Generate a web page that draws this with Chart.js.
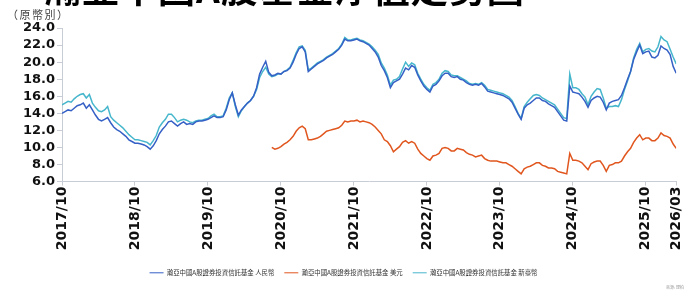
<!DOCTYPE html>
<html><head><meta charset="utf-8">
<script src="https://cdn.jsdelivr.net/npm/chart.js@4/dist/chart.umd.min.js"></script>
<style>
html,body{margin:0;padding:0;background:#fff;}
#wrap{position:relative;width:694px;height:294px;overflow:hidden;}
#c{position:absolute;left:0;top:0;}
#title{position:absolute;left:44px;top:-31px;font:bold 37px "Noto Sans CJK TC";line-height:37px;white-space:nowrap;color:#000;letter-spacing:1px;}
#unit{position:absolute;left:7px;top:6px;font:11px "Noto Sans CJK TC";color:#444;letter-spacing:1.5px;}
#src{position:absolute;left:666px;top:284px;font:4px "Noto Sans CJK TC";color:#999;}
</style></head>
<body>
<div id="wrap">
<canvas id="c" width="694" height="294"></canvas>
<div id="title">瀚亞中國A股基金淨值走勢圖</div>
<div id="unit">（原幣別）</div>
<div id="src">來源: 理柏</div>
</div>
<script>
// Months (each month has two half-month readings)
const months = [
'2017/10','2017/11','2017/12',
'2018/01','2018/02','2018/03','2018/04','2018/05','2018/06','2018/07','2018/08','2018/09','2018/10','2018/11','2018/12',
'2019/01','2019/02','2019/03','2019/04','2019/05','2019/06','2019/07','2019/08','2019/09','2019/10','2019/11','2019/12',
'2020/01','2020/02','2020/03','2020/04','2020/05','2020/06','2020/07','2020/08','2020/09','2020/10','2020/11','2020/12',
'2021/01','2021/02','2021/03','2021/04','2021/05','2021/06','2021/07','2021/08','2021/09','2021/10','2021/11','2021/12',
'2022/01','2022/02','2022/03','2022/04','2022/05','2022/06','2022/07','2022/08','2022/09','2022/10','2022/11','2022/12',
'2023/01','2023/02','2023/03','2023/04','2023/05','2023/06','2023/07','2023/08','2023/09','2023/10','2023/11','2023/12',
'2024/01','2024/02','2024/03','2024/04','2024/05','2024/06','2024/07','2024/08','2024/09','2024/10','2024/11','2024/12',
'2025/01','2025/02','2025/03','2025/04','2025/05','2025/06','2025/07','2025/08','2025/09','2025/10','2025/11','2025/12',
'2026/01','2026/02','2026/03'
];
const tickLabels = ['2017/10','2018/10','2019/10','2020/10','2021/10','2022/10','2023/10','2024/10','2025/10','2026/03'];
const seriesNames = ['瀚亞中國A股證券投資信託基金 人民幣','瀚亞中國A股證券投資信託基金 美元','瀚亞中國A股證券投資信託基金 新臺幣'];

// half-monthly NAV readings
const navRMB = [
14.0,14.2,14.4,14.3,14.6,14.9,15.0,15.2,14.6,15.0,14.4,13.8,13.3,13.1,13.3,13.5,12.9,12.4,12.1,11.9,11.6,11.3,10.9,10.7,
10.5,10.5,10.4,10.3,10.1,9.8,10.2,10.8,11.6,12.1,12.5,13.0,13.1,12.8,12.5,12.8,13.0,12.7,12.8,12.7,13.0,13.1,13.1,13.2,
13.3,13.5,13.7,13.5,13.5,13.6,14.4,15.6,16.4,15.0,13.8,14.4,14.8,15.2,15.5,16.0,17.0,18.6,19.4,20.1,18.8,18.4,18.5,18.7,
18.6,18.9,19.0,19.3,20.0,20.9,21.6,21.8,21.2,18.9,19.2,19.5,19.8,20.0,20.2,20.5,20.7,20.9,21.2,21.5,22.0,22.7,22.5,22.5,
22.6,22.7,22.5,22.4,22.2,22.0,21.6,21.2,20.6,19.6,19.0,18.2,17.0,17.6,17.8,18.0,18.6,19.3,19.1,19.6,19.4,18.5,17.8,17.2,
16.8,16.5,17.2,17.4,17.8,18.4,18.7,18.7,18.3,18.2,18.3,18.0,17.9,17.6,17.4,17.3,17.4,17.3,17.5,17.1,16.6,16.5,16.4,16.3,
16.2,16.1,15.9,15.7,15.3,14.6,13.9,13.3,14.6,15.0,15.2,15.5,15.8,15.8,15.5,15.4,15.1,14.9,14.7,14.2,13.7,13.2,13.1,17.2,
16.5,16.4,16.3,15.9,15.4,14.7,15.5,15.8,16.0,15.9,15.3,14.4,15.2,15.4,15.5,15.6,16.1,17.0,18.0,18.9,20.3,21.2,22.0,21.0,
21.2,21.3,20.6,20.5,20.8,21.9,21.6,21.4,20.9,19.5,18.7
];
const navUSD = [
null,null,null,null,null,null,null,null,null,null,null,null,null,null,null,null,null,null,null,null,null,null,null,null,
null,null,null,null,null,null,null,null,null,null,null,null,null,null,null,null,null,null,null,null,null,null,null,null,
null,null,null,null,null,null,null,null,null,null,null,null,null,null,null,null,null,null,null,null,null,10.0,9.8,9.9,
10.1,10.4,10.6,10.9,11.3,11.9,12.3,12.5,12.2,10.9,10.9,11.0,11.1,11.3,11.6,11.9,12.0,12.1,12.2,12.3,12.6,13.1,13.0,13.1,
13.1,13.2,13.0,13.1,13.0,12.9,12.7,12.4,12.0,11.6,10.9,10.7,10.2,9.5,9.8,10.1,10.6,10.8,10.5,10.7,10.5,9.8,9.3,9.0,
8.7,8.5,9.0,9.1,9.3,9.9,10.0,9.9,9.6,9.6,9.9,9.8,9.7,9.4,9.2,9.1,8.9,9.0,9.1,8.7,8.5,8.4,8.4,8.4,
8.3,8.2,8.2,8.0,7.8,7.5,7.2,6.9,7.5,7.7,7.8,8.0,8.2,8.2,7.9,7.8,7.6,7.6,7.5,7.2,7.1,7.0,6.9,9.3,
8.5,8.5,8.4,8.2,7.8,7.4,8.1,8.3,8.4,8.4,7.9,7.2,7.9,8.0,8.2,8.2,8.4,9.0,9.5,9.9,10.6,11.1,11.5,10.9,
11.1,11.1,10.8,10.8,11.1,11.7,11.4,11.3,11.1,10.4,9.9
];
const navTWD = [
15.0,15.2,15.4,15.3,15.7,16.0,16.2,16.3,15.8,16.2,15.2,14.7,14.3,14.2,14.4,14.8,13.6,13.2,12.9,12.6,12.3,11.9,11.5,11.2,
10.9,10.9,10.8,10.7,10.6,10.3,10.8,11.4,12.4,12.9,13.3,13.9,13.9,13.5,13.0,13.2,13.3,13.2,13.0,12.9,13.1,13.2,13.2,13.3,
13.4,13.7,13.9,13.6,13.6,13.7,14.6,15.8,16.4,14.8,13.6,14.3,14.8,15.2,15.5,16.0,16.8,18.2,18.9,19.4,18.6,18.3,18.4,18.6,
18.6,18.9,19.1,19.4,20.2,21.1,21.8,21.9,21.4,19.1,19.3,19.6,19.9,20.1,20.3,20.6,20.8,21.0,21.3,21.6,22.1,22.9,22.6,22.6,
22.7,22.8,22.6,22.5,22.3,22.1,21.8,21.4,20.9,19.9,19.3,18.5,17.3,17.9,18.0,18.3,19.2,20.0,19.5,19.9,19.7,18.7,18.0,17.4,
17.0,16.7,17.4,17.6,18.0,18.7,19.0,18.9,18.5,18.4,18.4,18.2,18.0,17.8,17.5,17.4,17.5,17.4,17.6,17.3,16.8,16.7,16.6,16.5,
16.4,16.3,16.1,15.9,15.5,14.8,14.0,13.4,14.8,15.3,15.7,16.1,16.2,16.1,15.8,15.6,15.4,15.2,15.0,14.5,14.0,13.5,13.4,18.6,
17.0,17.0,16.8,16.3,15.9,15.0,16.0,16.5,16.9,16.8,15.8,14.6,14.8,14.8,14.9,14.8,15.6,16.8,17.8,18.9,20.5,21.5,22.2,21.2,
21.5,21.6,21.3,21.2,21.8,23.0,22.6,22.4,21.5,20.6,19.8
];
const yTicks = [6,8,10,12,14,16,18,20,22,24];
const colors = ['#3560c6','#e0561e','#46b6cc'];

const toXY = arr => arr.map((v,i)=>({x:i/2, y:v}));
const tickPos = tickLabels.map(l => months.indexOf(l));

new Chart(document.getElementById('c'), {
  type:'line',
  data:{datasets:[
    {label:seriesNames[0], data:toXY(navRMB), borderColor:colors[0], backgroundColor:colors[0]},
    {label:seriesNames[1], data:toXY(navUSD), borderColor:colors[1], backgroundColor:colors[1]},
    {label:seriesNames[2], data:toXY(navTWD), borderColor:colors[2], backgroundColor:colors[2]}
  ]},
  options:{
    responsive:false, animation:false, devicePixelRatio:1,
    elements:{line:{borderWidth:1.5, tension:0}, point:{radius:0}},
    layout:{padding:{top:28,right:7,left:0,bottom:8}},
    plugins:{
      tooltip:{enabled:false},
      legend:{position:'bottom', labels:{usePointStyle:true, pointStyle:'line', pointStyleWidth:14,
        font:{family:'"Noto Sans CJK TC"', size:6.4}, color:'#333', padding:10}}
    },
    scales:{
      x:{type:'linear', min:0, max:months.length-1,
        afterFit:s=>{s.height=78;},
        afterBuildTicks:s=>{s.ticks = tickPos.map(v=>({value:v}));},
        grid:{drawOnChartArea:false, color:'#c8ccd4', tickLength:4},
        border:{color:'#c8ccd4'},
        ticks:{autoSkip:false, minRotation:90, maxRotation:90, padding:1,
          font:{family:'"DejaVu Sans"', size:14, weight:'bold'}, color:'#111',
          callback:v=>months[v]}
      },
      y:{min:6, max:24,
        afterFit:s=>{s.width=62;},
        afterBuildTicks:s=>{s.ticks = yTicks.map(v=>({value:v}));},
        grid:{drawOnChartArea:false, color:'#c8ccd4', tickLength:5},
        border:{color:'#c8ccd4'},
        ticks:{autoSkip:false, padding:2, font:{family:'"DejaVu Sans"', size:13, weight:'bold'}, color:'#111',
          callback:v=>v.toFixed(1)}
      }
    }
  }
});
</script>
</body></html>
